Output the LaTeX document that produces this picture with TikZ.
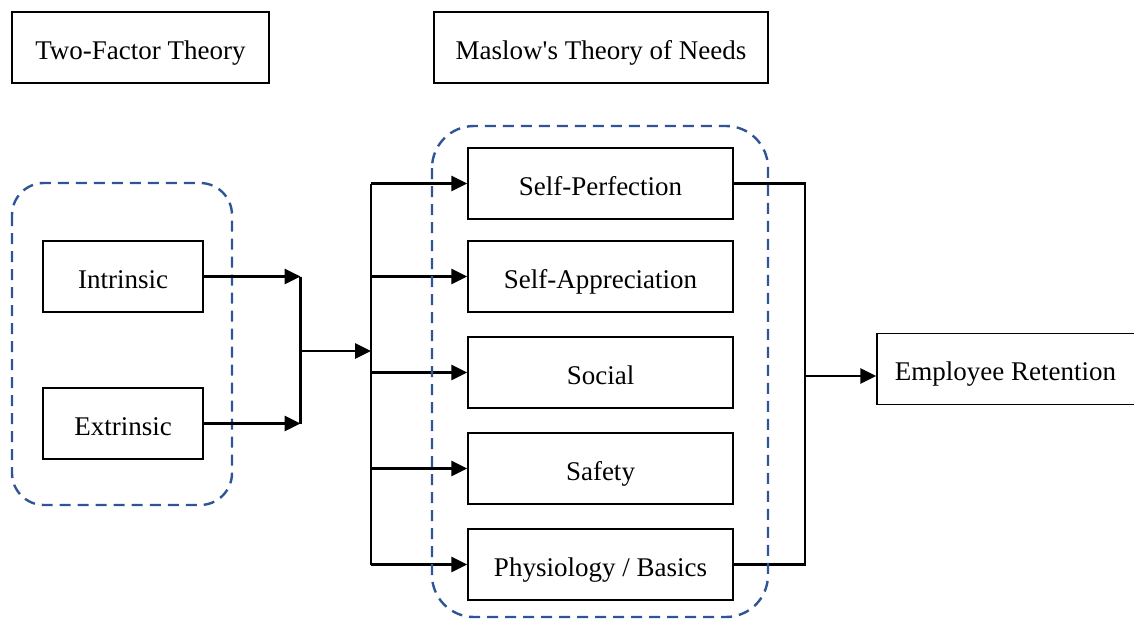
\documentclass[tikz,border=0pt]{standalone}
\usepackage{fontspec}
\setmainfont{Liberation Serif}
\usetikzlibrary{arrows.meta}
\definecolor{dashblue}{RGB}{47,85,151}
\tikzset{
  box/.style={draw=black, line width=1.3pt, fill=white, inner sep=0pt, minimum height=71pt,
    text height=29pt, text depth=6pt, font=\fontsize{27}{31}\selectfont},
  conn/.style={line width=2.8pt, -{Triangle[length=16pt,width=15pt]}},
  plain/.style={line width=2.8pt},
  grp/.style={draw=dashblue, line width=2.4pt, dash pattern=on 11pt off 7pt}
}
\begin{document}
\begin{tikzpicture}[x=1pt,y=-1pt]
\useasboundingbox (0,0) rectangle (1134,619);
% group outline (left)
\draw[grp, rounded corners=32pt] (12,183) rectangle (232,505);
% nodes
\node[box, minimum width=257pt] (tf) at (140.5,47.5) {Two-Factor Theory};
\node[box, minimum width=334pt] (mt) at (601,47.5) {Maslow\textquotesingle s Theory of Needs};
\node[box, minimum width=160pt] (intr) at (123,276.5) {Intrinsic};
\node[box, minimum width=160pt] (extr) at (123,423.5) {Extrinsic};
\node[box, minimum width=265pt] (sp) at (600.5,183.5) {Self-Perfection};
\node[box, minimum width=265pt] (sa) at (600.5,276.5) {Self-Appreciation};
\node[box, minimum width=265pt] (so) at (600.5,372.5) {Social};
\node[box, minimum width=265pt] (sf) at (600.5,468.5) {Safety};
\node[box, minimum width=265pt] (ph) at (600.5,564.5) {Physiology / Basics};
\node[box, minimum width=264pt] (er) at (1009,369) {\hspace*{-7pt}Employee Retention};
% junction coordinates
\coordinate (j1) at (300.5,351);
\coordinate (j2) at (371,351);
\coordinate (jr) at (805,376);
% left merge
\draw[conn] (intr.east) -- (j1 |- intr.east);
\draw[conn] (extr.east) -- (j1 |- extr.east);
\draw[plain] (j1 |- intr.east) -- (j1 |- extr.east);
\draw[conn] (j1) -- (j2);
% distribution bus
\draw[plain] (j2 |- sp.west) -- (j2 |- ph.west);
\foreach \n in {sp,sa,so,sf,ph}{
  \draw[conn] (j2 |- \n.west) -- (\n.west);
}
% right merge
\draw[plain] (sp.east) -- (jr |- sp.east) -- (jr |- ph.east) -- (ph.east);
\draw[conn] (jr) -- (er.west |- jr);
% right group outline (drawn over connectors)
\draw[grp, rounded corners=42pt] (432,126) rectangle (768,617);
\end{tikzpicture}
\end{document}
